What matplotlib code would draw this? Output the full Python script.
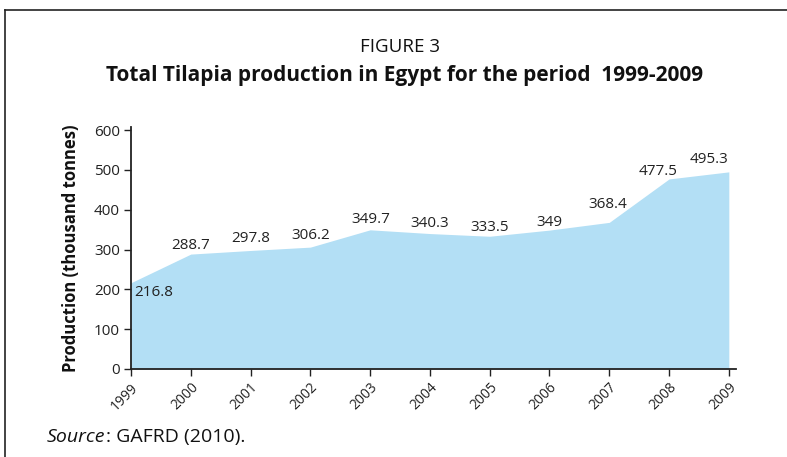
import matplotlib
matplotlib.use("Agg")
import matplotlib.pyplot as plt
from matplotlib.lines import Line2D

years = [1999, 2000, 2001, 2002, 2003, 2004, 2005, 2006, 2007, 2008, 2009]
production = [216.8, 288.7, 297.8, 306.2, 349.7, 340.3, 333.5, 349, 368.4, 477.5, 495.3]
value_labels = ["216.8", "288.7", "297.8", "306.2", "349.7", "340.3",
                "333.5", "349", "368.4", "477.5", "495.3"]
y_ticks = [0, 100, 200, 300, 400, 500, 600]

# label offsets in pixels relative to each data point
label_offsets = [(3, -10, "left"), (0, 9, "center"), (0, 12, "center"),
                 (0, 12, "center"), (1, 10, "center"), (0, 10, "center"),
                 (0, 9, "center"), (0, 8, "center"), (-2, 18, "center"),
                 (-11, 7, "center"), (-20, 12, "center")]

plt.rcParams["font.family"] = ["Open Sans", "DejaVu Sans"]

W, H = 787, 457
fig = plt.figure(figsize=(W / 100, H / 100), dpi=100)
fig.patch.set_facecolor("white")

# outer frame: left and top rules
fig.add_artist(Line2D([5 / W, 5 / W], [0, 1 - 10 / H], transform=fig.transFigure,
                      color="#222222", lw=1.2))
fig.add_artist(Line2D([5 / W, 1], [1 - 10 / H, 1 - 10 / H], transform=fig.transFigure,
                      color="#222222", lw=1.2))

ax = fig.add_axes([131 / W, 1 - 369 / H, (736 - 131) / W, (369 - 127) / H])
ax.fill_between(years, production, 0, color="#b3dff5", lw=0)
ax.set_xlim(1999, 2009.12)
ax.set_ylim(0, 608)

for sp in ["top", "right"]:
    ax.spines[sp].set_visible(False)
for sp in ["left", "bottom"]:
    ax.spines[sp].set_linewidth(1.3)
    ax.spines[sp].set_color("#222222")

ax.set_yticks(y_ticks)
ax.set_yticklabels([str(v) for v in y_ticks], fontsize=11, color="#222222")
ax.set_xticks(years)
ax.set_xticklabels([str(y) for y in years], fontsize=10, rotation=45,
                   ha="right", rotation_mode="anchor", color="#222222")
ax.tick_params(axis="both", direction="out", length=5, width=1, color="#222222")
ax.tick_params(axis="x", pad=3)
ax.tick_params(axis="y", pad=3)

for x, v, lab, (dx, dy, ha) in zip(years, production, value_labels, label_offsets):
    ax.annotate(lab, (x, v), xytext=(dx, dy), textcoords="offset pixels",
                ha=ha, va="center", fontsize=11, color="#222222")

ax.set_ylabel("Production (thousand tonnes)", fontsize=12, fontweight="bold",
              color="#111111", labelpad=10)

fig.text(400 / W, 1 - 47 / H, "FIGURE 3", ha="center", va="center",
         fontsize=13.5, color="#111111")
fig.text(405 / W, 1 - 75 / H, "Total Tilapia production in Egypt for the period  1999-2009",
         ha="center", va="center", fontsize=15, fontweight="bold", color="#111111")

# source line: italic "Source" followed by the plain remainder
src = fig.text(47 / W, 1 - 437 / H, "Source", ha="left", va="center", fontsize=14,
               style="italic", color="#111111")
fig.canvas.draw()
w = src.get_window_extent().width
fig.text((47 + w) / W, 1 - 437 / H, ": GAFRD (2010).", ha="left", va="center",
         fontsize=14, color="#111111")

fig.savefig("out.png", dpi=100)
